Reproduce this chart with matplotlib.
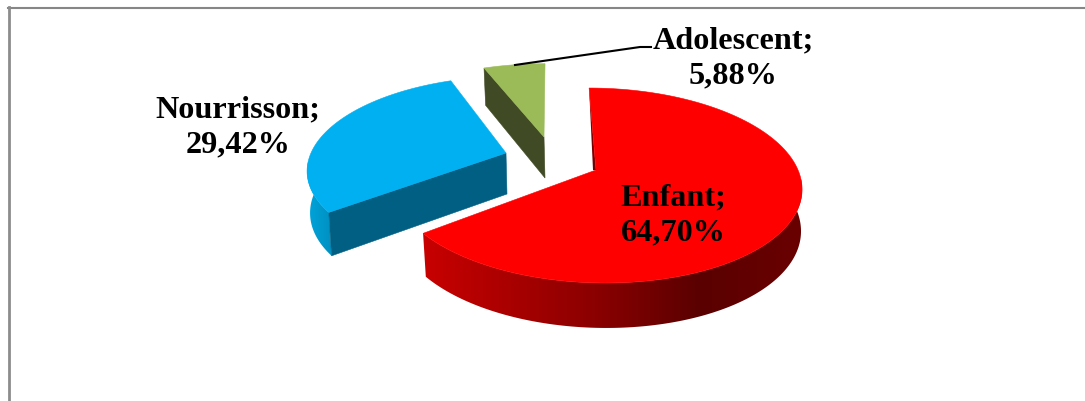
#!/usr/bin/python
"""Exploded 3D-style pie of age groups, drawn from plain polygons."""

import numpy as np
import matplotlib
matplotlib.use('Agg')
import matplotlib.pyplot as plt
from matplotlib.colors import LinearSegmentedColormap
from matplotlib.patches import Polygon

categories = ['Enfant', 'Nourrisson', 'Adolescent']
shares = [64.70, 29.42, 5.88]
share_labels = ['64,70%', '29,42%', '5,88%']

TOP_COLORS = ['#ff0000', '#00b0f0', '#9bbb59']
# apex of each slice on the canvas, in pixels
APEX = [(596, 170), (506, 153), (544, 137)]
SHEAR = [8, -7.5, -1.2]
RADIUS_X = [202, 195, 194]
RADIUS_Y = [95, 89, 85]
PERSPECTIVE = [0.159, 0.16, 0.16]


def project(theta, idx, lower=False):
    """Map a clockwise angle from 12 o'clock to canvas pixels."""
    u = np.sin(theta)
    # v grows towards the viewer, so 12 o'clock is v = -1
    v = -np.cos(theta)
    scale = 1.0 / (1.0 - PERSPECTIVE[idx] * v)
    dx = (RADIUS_X[idx] * u + SHEAR[idx] * v) * scale
    dy = RADIUS_Y[idx] * v * scale
    x0, y0 = APEX[idx]
    if lower:
        return x0 + 1 + dx * 0.99, y0 + 41 + 4 * v + dy
    return x0 + dx, y0 + dy


def rim(start, stop, idx, lower=False, n=200):
    th = np.linspace(start, stop, n)
    return np.column_stack(project(th, idx, lower))


def add_wall(ax, top_range, low_range, idx, colors):
    """Outer wall: a horizontal gradient clipped to the wall outline."""
    top = rim(top_range[0], top_range[1], idx)
    low = rim(low_range[0], low_range[1], idx, lower=True)
    outline = np.vstack([top, low[::-1]])
    xmin, xmax = outline[:, 0].min(), outline[:, 0].max()
    ymin, ymax = outline[:, 1].min(), outline[:, 1].max()
    cmap = LinearSegmentedColormap.from_list('wall', colors)
    img = ax.imshow(np.linspace(0, 1, 256)[None, :], cmap=cmap, aspect='auto',
                    extent=(xmin, xmax, ymax, ymin), interpolation='bilinear')
    clip = Polygon(outline, closed=True, transform=ax.transData)
    img.set_clip_path(clip)


def add_top(ax, start, stop, idx):
    pts = np.vstack([[APEX[idx]], rim(start, stop, idx)])
    ax.add_patch(Polygon(pts, closed=True, fc=TOP_COLORS[idx],
                         ec=TOP_COLORS[idx], lw=0.4))


def add_radial(ax, theta, idx, color):
    a = project(theta, idx)
    b = project(theta, idx, lower=True)
    x0, y0 = APEX[idx]
    quad = [a, (x0, y0), (x0 + 1, y0 + 41), b]
    ax.add_patch(Polygon(quad, closed=True, fc=color, ec=color, lw=0.4))


fig = plt.figure(figsize=(10.85, 4.01), dpi=100)
ax = fig.add_axes([0, 0, 1, 1])
ax.axis('off')

# chart frame: only the top and left edges fall inside the canvas
ax.plot([8, 1085], [8, 8], color='#868686', lw=1.5)
ax.plot([9.3, 9.3], [7, 401], color='#8c8c8c', lw=2)

edges = np.cumsum([0] + shares) / 100.0 * 2 * np.pi

# Nourrisson
add_wall(ax, (edges[1], np.radians(265)), (edges[1], np.radians(275)), 1,
         ['#00a4dc', '#0090c0'])
add_radial(ax, edges[1], 1, '#005f83')
add_top(ax, edges[1], edges[2], 1)

# Adolescent
add_radial(ax, edges[2], 2, '#404a24')
add_top(ax, edges[2], edges[3], 2)

# Enfant, the wall shade runs from bright on the left to dark on the right
add_wall(ax, (np.radians(95), edges[1]), (np.radians(85), edges[1]), 0,
         [(0, '#c80000'), (0.46, '#8a0000'), (0.73, '#5a0000'),
          (1, '#6a0000')])
s = project(0.0, 0)
ax.add_patch(Polygon([s, APEX[0], (APEX[0][0] - 3, APEX[0][1])], closed=True,
                     fc='#7a0000', ec='none'))
add_top(ax, edges[0], edges[1], 0)

# leader line of the smallest slice
ax.plot([515, 640, 651], [65, 47, 47], color='black', lw=1.5)

text_style = dict(family=['Liberation Serif', 'DejaVu Serif'], weight='bold',
                  fontsize=23.2, ha='center', va='center', color='black',
                  linespacing=1.28)
label_pos = [(673, 215), (238, 127), (733, 58)]
for name, lab, (x, y) in zip(categories, share_labels, label_pos):
    ax.text(x, y, name + ';\n' + lab, **text_style)

ax.set_xlim(0, 1085)
ax.set_ylim(401, 0)

fig.savefig('out.png', dpi=100)
